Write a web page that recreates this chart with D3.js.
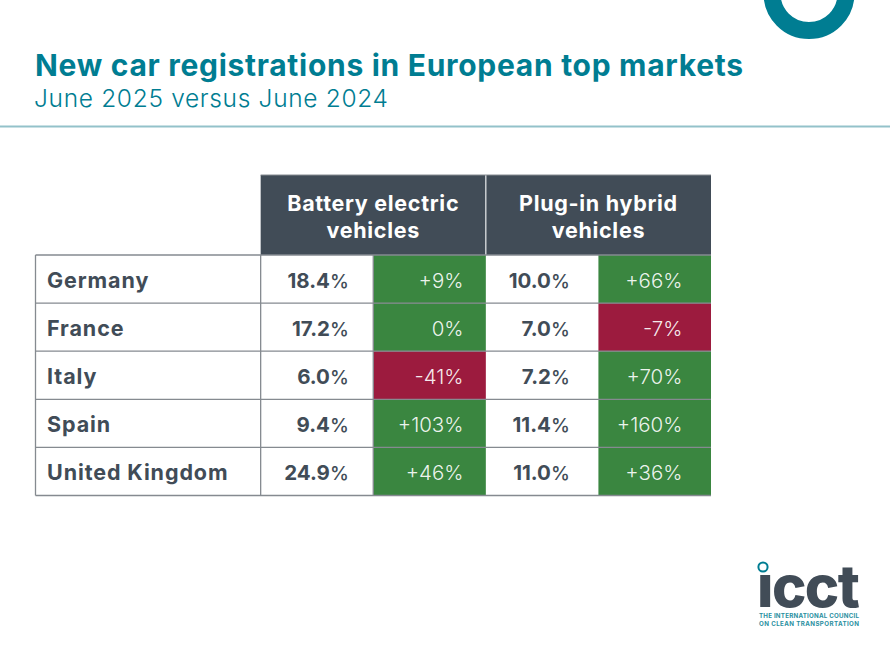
<!DOCTYPE html>
<html><head><meta charset="utf-8">
<script src="https://cdn.jsdelivr.net/npm/d3@7"></script>
<style>html,body{margin:0;padding:0;background:#fff}svg{display:block}text{font-family:Inter,"Open Sans",sans-serif}</style>
</head><body><svg id="c" width="890" height="666"></svg>
<script>
const titleText = "New car registrations in European top markets";
const subtitleText = "June 2025 versus June 2024";
const countries = ["Germany","France","Italy","Spain","United Kingdom"];
const bevShare = [18.4,17.2,6.0,9.4,24.9];
const bevChange = [9,0,-41,103,46];
const phevShare = [10.0,7.0,7.2,11.4,11.0];
const phevChange = [66,-7,70,160,36];
const groupHeaders = [["Battery electric","vehicles"],["Plug-in hybrid","vehicles"]];

const teal="#007d92", dark="#414c57", green="#3a8640", red="#9c1b3e", grid="#858a90";
const svg=d3.select("#c");
const x=d3.scaleLinear().domain([0,6]).range([35.5,711]);
const y=d3.scaleBand().domain(countries).range([255,495.5]);
const fmtShare=d=>d3.format(".1f")(d);
const fmtChange=d=>(d>0?"+":"")+d+"%";

// top ring
svg.append("circle").attr("cx",809).attr("cy",-6.5).attr("r",37).attr("fill","none").attr("stroke",teal).attr("stroke-width",17);
// title
svg.append("text").attr("x",35).attr("y",76).attr("fill",teal).attr("font-size",30).attr("font-weight",700).attr("textLength",708).attr("lengthAdjust","spacing").text(titleText);
svg.append("text").attr("x",34).attr("y",107).attr("fill",teal).attr("font-size",24.5).attr("font-weight",300).attr("textLength",354).attr("lengthAdjust","spacing").text(subtitleText);
svg.append("line").attr("x1",0).attr("x2",890).attr("y1",126.5).attr("y2",126.5).attr("stroke","#93c2ca").attr("stroke-width",2);

// header
const heads=svg.append("g");
groupHeaders.forEach((lines,i)=>{
  const x0=x(2+2*i),x1=x(4+2*i);
  heads.append("rect").attr("x",x0).attr("y",175).attr("width",x1-x0).attr("height",80).attr("fill",dark);
  lines.forEach((t,j)=>heads.append("text").attr("x",(x0+x1)/2).attr("y",211+j*27).attr("text-anchor","middle")
    .attr("fill","#fff").attr("font-size",21.5).attr("font-weight",700).attr("letter-spacing",0.7).text(t));
});
heads.append("line").attr("x1",x(4)).attr("x2",x(4)).attr("y1",175).attr("y2",255).attr("stroke","#e6e8ea").attr("stroke-width",1.2);
heads.append("line").attr("x1",x(2)).attr("x2",x(6)).attr("y1",175).attr("y2",175).attr("stroke",grid).attr("stroke-width",1);

// coloured cells
[[bevChange,3],[phevChange,5]].forEach(([vals,col])=>{
  svg.append("g").selectAll("rect").data(vals).join("rect")
    .attr("x",x(col)).attr("width",x(col+1)-x(col))
    .attr("y",(d,i)=>y(countries[i])).attr("height",y.bandwidth())
    .attr("fill",d=>d<0?red:green);
  svg.append("g").selectAll("text").data(vals).join("text")
    .attr("x",col===3?463.5:682.5).attr("y",(d,i)=>y(countries[i])+y.bandwidth()/2+8.5)
    .attr("text-anchor","end").attr("fill","#fff").attr("fill-opacity",0.92).attr("font-size",20.5).attr("font-weight",300).text(fmtChange);
});
// grid lines
const gl=svg.append("g").attr("stroke",grid).attr("stroke-width",1.3);
[...countries.map(c=>y(c)),y.range()[1]].forEach(v=>{
  gl.append("line").attr("x1",x(0)).attr("x2",x(6)).attr("y1",v).attr("y2",v);
});
[0,2,3].forEach(c=>gl.append("line").attr("x1",x(c)).attr("x2",x(c)).attr("y1",255).attr("y2",y.range()[1]));

// labels
svg.append("g").selectAll("text").data(countries).join("text")
  .attr("x",47).attr("y",c=>y(c)+y.bandwidth()/2+8.5).attr("fill",dark)
  .attr("font-size",21.5).attr("font-weight",700).attr("letter-spacing",0.9).text(c=>c);
[[bevShare,348],[phevShare,569]].forEach(([vals,right])=>{
  const t=svg.append("g").selectAll("text").data(vals).join("text")
    .attr("x",right).attr("y",(d,i)=>y(countries[i])+y.bandwidth()/2+8.5)
    .attr("text-anchor","end").attr("fill",dark).attr("font-size",20.5).attr("font-weight",700).text(fmtShare);
  t.append("tspan").attr("font-size",19).attr("font-weight",500).attr("letter-spacing",-0.8).text("%");
});

// logo
const logo=svg.append("g");
logo.append("circle").attr("cx",763).attr("cy",567).attr("r",4.6).attr("fill","none").attr("stroke",teal).attr("stroke-width",2);
logo.append("text").attr("x",757).attr("y",607).attr("fill",dark).attr("font-size",58).attr("font-weight",800).attr("textLength",103).attr("lengthAdjust","spacing").text("\u0131cct");
logo.append("text").attr("x",759).attr("y",618).attr("fill","#2a8f9f").attr("font-size",6.2).attr("font-weight",700).attr("textLength",100).text("THE INTERNATIONAL COUNCIL");
logo.append("text").attr("x",759).attr("y",626).attr("fill","#2a8f9f").attr("font-size",6.2).attr("font-weight",700).attr("textLength",100).text("ON CLEAN TRANSPORTATION");
</script></body></html>
